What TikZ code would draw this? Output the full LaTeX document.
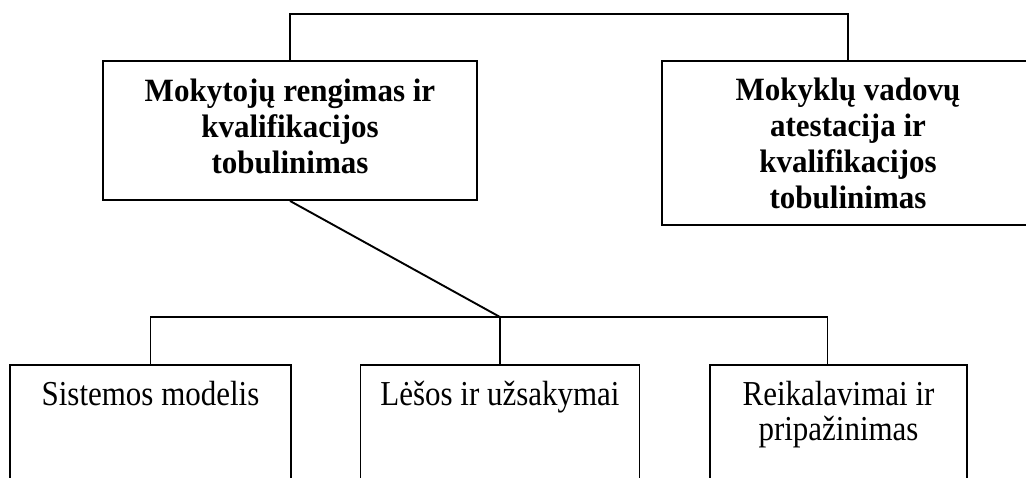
\documentclass[tikz,border=0pt]{standalone}
\usepackage{fontspec}
\setmainfont{Liberation Serif}
\newfontfamily\titlefam[FakeStretch=0.954]{Liberation Serif}
\newfontfamily\bodyfam[FakeStretch=0.885]{Liberation Serif}
\newcommand\boxtext[4]{\parbox[c][#2][t]{#1}{\centering\vspace*{#3}\strut#4}}
\begin{document}
\begin{tikzpicture}[x=1pt,y=-1pt,
  box/.style={draw, rectangle, line width=1.9pt, inner sep=0pt},
  titletext/.style={font=\titlefam\bfseries\fontsize{32.5}{36}\selectfont},
  bodytext/.style={font=\bodyfam\fontsize{35}{35}\selectfont},
  conn/.style={line width=1.9pt}]
\useasboundingbox (0,0) rectangle (1026,477);
\clip (0,0) rectangle (1026,477);
\node[box, titletext] (L) at (290,130.5)
  {\boxtext{374pt}{139pt}{15.5pt}{Mokytojų rengimas ir\\kvalifikacijos\\tobulinimas}};
\node[box, titletext] (R) at (848,143)
  {\boxtext{372pt}{164pt}{13.8pt}{Mokyklų vadovų\\atestacija ir\\kvalifikacijos\\tobulinimas}};
\node[box, bodytext] (B1) at (150.5,445)
  {\boxtext{281pt}{160pt}{15.5pt}{Sistemos modelis}};
\node[box, bodytext] (B2) at (500,445)
  {\boxtext{279pt}{160pt}{15.5pt}{Lėšos ir užsakymai}};
\node[box, bodytext] (B3) at (838.5,445)
  {\boxtext{257pt}{160pt}{15.5pt}{Reikalavimai ir\\pripažinimas}};
\coordinate (top) at (0,14);
\coordinate (hub) at (500,317);
\coordinate (b3in) at ([xshift=-11pt]B3.north);
\draw[conn] (L.north) -- (L.north |- top) -| (R.north);
\draw[conn] (L.south) -- (hub);
\draw[conn] (B1.north) |- (hub) -| (b3in);
\draw[conn] (hub) -- (B2.north);
\end{tikzpicture}
\end{document}
